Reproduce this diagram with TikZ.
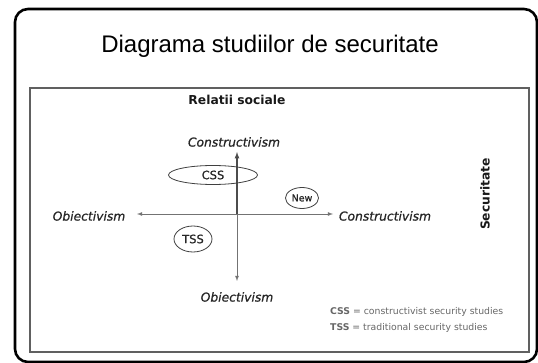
\documentclass[tikz,border=0pt]{standalone}
\usepackage{fontspec}
\setmainfont{Liberation Sans}
\newfontfamily\verd{DejaVu Sans}
\newfontfamily\verdgros[FakeBold=0.8]{DejaVu Sans}
\usetikzlibrary{arrows,shapes.geometric}

\tikzset{
	eticheta/.style={font=\verdgros\itshape\fontsize{12.3}{14}\selectfont, text=black!85, inner sep=1pt},
	titluax/.style={font=\verd\bfseries\fontsize{12.3}{14}\selectfont, text=black!90},
	cerc/.style={draw=black!75, ellipse, line width=0.8pt, inner sep=0pt, font=\verdgros\fontsize{11.5}{13}\selectfont, text=black!85},
	legenda/.style={anchor=west, inner sep=0pt, font=\verd\fontsize{9.3}{11}\selectfont, text=black!60}
}

\begin{document}
\begin{tikzpicture}[>=latex, x=1pt, y=-1pt]
		%\draw [help lines] (0,0) grid (538,363);
		\useasboundingbox (0,0) rectangle (538,363);
		% Rama
		\draw [line width=2.6pt, rounded corners=13pt] (15,9) rectangle (537,362);
		\draw [line width=1.5pt, gray!75!black] (30,88) rectangle (529,352);
		
		% Titlu
		\node (titlu) at (270,46) {\fontsize{24}{28}\selectfont Diagrama studiilor de securitate};
		\node [titluax] (relatii) at (237,100) {Relatii sociale};
		\node [titluax, rotate=90] (securitate) at (485,194) {Securitate};
		
		% Axe
		\coordinate (O) at (237,214);
		\coordinate (N) at (237,152);
		\coordinate (S) at (237,281);
		\coordinate (V) at (137,214);
		\coordinate (E) at (333,214);
		\draw [->, line width=1.2pt, black!70] (O) -- (N);
		\draw [->, line width=0.8pt, black!55] (O) -- (S);
		\draw [->, line width=0.8pt, black!55] (O) -- (V);
		\draw [->, line width=0.8pt, black!55] (O) -- (E);
		
		% Capete
		\node [eticheta] (sus) at (234,142) {Constructivism};
		\node [eticheta] (jos) at (237,297) {Obiectivism};
		\node [eticheta] (stanga) at (89,216) {Obiectivism};
		\node [eticheta] (dreapta) at (385,216) {Constructivism};
		
		% Studii
		\node [cerc, minimum width=89pt, minimum height=19pt] (css) at (213,175) {CSS};
		\node [cerc, minimum width=33pt, minimum height=21pt, font=\verdgros\fontsize{9.5}{11}\selectfont] (new) at (302,198) {New};
		\node [cerc, minimum width=38pt, minimum height=26pt] (tss) at (193,239) {TSS};
		
		% Legenda
		\node [legenda] (leg1) at (330,312) {\textbf{CSS} = constructivist security studies};
		\node [legenda] (leg2) at (330,328) {\textbf{TSS} = traditional security studies};
	\end{tikzpicture}
\end{document}
